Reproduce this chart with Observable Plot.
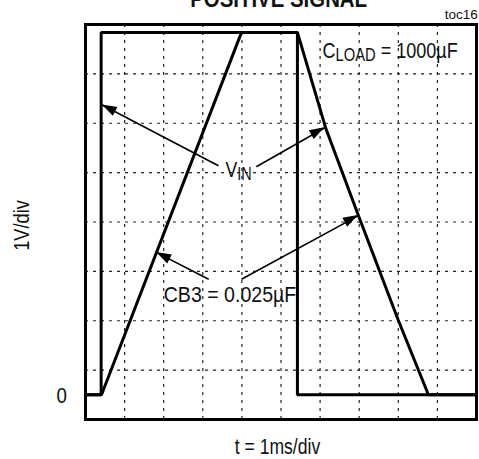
<!DOCTYPE html>
<html><head><meta charset="utf-8">
<style>body{margin:0;background:#fff;} svg{display:block}</style>
<script src="https://cdn.jsdelivr.net/npm/d3@7"></script>
<script src="https://cdn.jsdelivr.net/npm/@observablehq/plot@0.6"></script>
</head><body><div id="chart"></div>
<script>
// Traces (t in ms, v in volts; 1 ms/div, 1 V/div)
const vinT = [0, 0.40, 0.40, 5.42, 5.42, 10];
const vinV = [0, 0, 7.34, 7.34, 0, 0];
const outT = [0, 0.41, 3.99, 5.42, 6.14, 6.98, 8.00, 8.77, 10];
const outV = [0, 0, 7.34, 7.34, 5.41, 3.63, 1.51, 0, 0];
// grid divisions
const gridT = [1, 2, 3, 4, 5, 6, 7, 8, 9];
const gridV = [0.5, 1.5, 2.5, 3.5, 4.5, 5.5, 6.5];
// annotations ("|" separates subscript)
const labelText = ["V|IN", "CB3 = 0.025µF", "C|LOAD| = 1000µF"];
const labelT = [3.58, 2.00, 6.06];
const labelV = [4.41, 1.88, 6.82];
const arrowT1 = [3.40, 4.37, 3.15, 3.99];
const arrowV1 = [4.64, 4.62, 2.34, 2.34];
const arrowT2 = [0.43, 6.12, 1.82, 6.98];
const arrowV2 = [5.87, 5.41, 2.88, 3.63];
// axis texts
const axisText = ["0", "t = 1ms/div"];
const axisT = [-0.61, 4.91];
const axisV = [-0.16, -1.19];
const yLabel = "1V/div";
const titleText = "POSITIVE SIGNAL";
const tocText = "toc16";

// horizontal condensing of each text (the reference uses a narrow face)
const narrow = {"V|IN": 0.8, "CB3 = 0.025µF": 0.89, "C|LOAD| = 1000µF": 0.82, "0": 0.85,
  "t = 1ms/div": 0.8, "1V/div": 0.83, "POSITIVE SIGNAL": 0.85};

const FONT = "'Liberation Sans', Arial, Helvetica, sans-serif";

const vin = vinT.map((t, i) => ({t, v: vinV[i]}));
const out = outT.map((t, i) => ({t, v: outV[i]}));
const labels = labelText.map((s, i) => ({s, t: labelT[i], v: labelV[i]}));
const arrows = arrowT1.map((t1, i) => ({t1, v1: arrowV1[i], t2: arrowT2[i], v2: arrowV2[i]}));
const axisLabels = axisText.map((s, i) => ({s, t: axisT[i], v: axisV[i]}));

function arrowHeads(index, scales) {
  const x = scales.x, y = scales.y;
  const g = d3.create("svg:g");
  for (const a of arrows) {
    const x1 = x(a.t1), y1 = y(a.v1), x2 = x(a.t2), y2 = y(a.v2);
    const ang = Math.atan2(y2 - y1, x2 - x1);
    const L = 15, W = 5;
    const bx = x2 - L * Math.cos(ang), by = y2 - L * Math.sin(ang);
    const px = -Math.sin(ang) * W, py = Math.cos(ang) * W;
    g.append("path")
      .attr("d", `M${x2},${y2}L${bx + px},${by + py}L${bx - px},${by - py}Z`)
      .attr("fill", "#000");
  }
  return g.node();
}

const plot = Plot.plot({
  width: 479,
  height: 459,
  marginLeft: 85,
  marginRight: 3,
  marginTop: 24,
  marginBottom: 40,
  x: {domain: [0, 10], axis: null},
  y: {domain: [-0.5, 7.5], axis: null},
  style: {fontFamily: FONT, color: "#000", background: "#fff"},
  marks: [
    Plot.ruleX(gridT, {stroke: "#222", strokeWidth: 1.2, strokeDasharray: "3,5"}),
    Plot.ruleY(gridV, {stroke: "#222", strokeWidth: 1.2, strokeDasharray: "3,5"}),
    Plot.line(vin, {x: "t", y: "v", stroke: "#000", strokeWidth: 3, strokeLinejoin: "miter"}),
    Plot.line(out, {x: "t", y: "v", stroke: "#000", strokeWidth: 3, strokeLinejoin: "miter"}),
    Plot.frame({stroke: "#000", strokeWidth: 3}),
    Plot.link(arrows, {x1: "t1", y1: "v1", x2: "t2", y2: "v2", stroke: "#000", strokeWidth: 1.6}),
    arrowHeads,
    Plot.text(labels, {x: "t", y: "v", text: "s", textAnchor: "start", lineAnchor: "bottom", fontSize: 22, fill: "#111"}),
    Plot.text(axisLabels, {x: "t", y: "v", text: "s", textAnchor: "middle", lineAnchor: "bottom", fontSize: 22, fill: "#111"}),
    Plot.text([yLabel], {x: -1.62, y: 3.43, text: d => d, rotate: -90, textAnchor: "middle", lineAnchor: "middle", fontSize: 22, fill: "#111"}),
    Plot.text([titleText], {x: 4.94, y: 7.85, text: d => d, textAnchor: "middle", lineAnchor: "bottom", fontSize: 24, fontWeight: "bold", fill: "#111"}),
    Plot.text([tocText], {x: 10.03, y: 7.62, text: d => d, textAnchor: "end", lineAnchor: "bottom", fontSize: 13.5, fill: "#111"})
  ]
});

d3.select(plot).selectAll("text").each(function () {
  const s = this.textContent;
  const k = narrow[s];
  if (k) {
    const tr = this.getAttribute("transform") || "";
    const ax = +this.getAttribute("x") || 0, ay = +this.getAttribute("y") || 0;
    this.setAttribute("transform", `${tr} translate(${ax},${ay}) scale(${k},1) translate(${-ax},${-ay})`);
  }
  if (!s.includes("|")) return;
  const parts = s.split("|");
  const sel = d3.select(this);
  sel.text(null);
  sel.append("tspan").text(parts[0]);
  sel.append("tspan").attr("dy", 3).attr("font-size", 18).text(parts[1]);
  if (parts[2]) sel.append("tspan").attr("dy", -3).text(parts[2]);
});

document.getElementById("chart").appendChild(plot);
</script>
</body></html>
